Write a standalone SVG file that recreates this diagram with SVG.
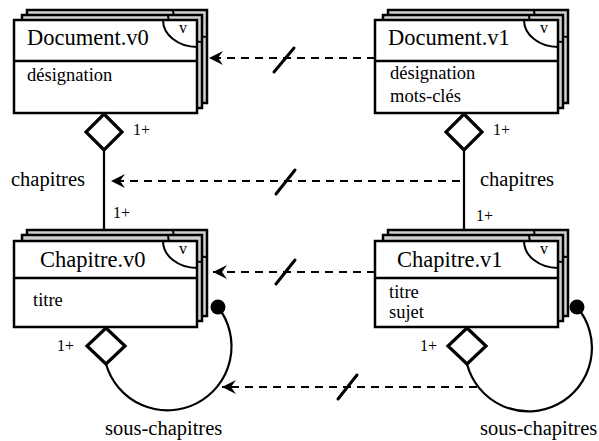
<svg xmlns="http://www.w3.org/2000/svg" width="599" height="441" viewBox="0 0 599 441">
<defs>
<style>
.back{fill:#d0d0d0;stroke:#000;stroke-width:2.5}
.front{fill:#fff;stroke:#000;stroke-width:2.5}
.sep{stroke:#000;stroke-width:2.5}
.arc{fill:none;stroke:#000;stroke-width:2}
text{font-family:'Liberation Serif','DejaVu Serif',serif;fill:#000}
.name{font-size:22.5px}
.attr{font-size:18.5px}
.lbl{font-size:20.5px}
.mult{font-size:16px}
.v{font-size:16px}
.dash{fill:none;stroke:#000;stroke-width:2.2;stroke-dasharray:8,6}
.solid{fill:none;stroke:#000;stroke-width:2.2}
.dia{fill:#fff;stroke:#000;stroke-width:3.2;stroke-linejoin:miter}
.slash{stroke:#000;stroke-width:3;stroke-linecap:round}
</style>
<marker id="ah" viewBox="-16 -8 17 16" refX="0" refY="0" markerWidth="17" markerHeight="16" markerUnits="userSpaceOnUse" orient="auto">
<path d="M0,0 L-14,-7 L-9,0 L-14,7 Z" fill="#000"/>
</marker>
</defs>

<g id="doc-v0">
<rect class="back" x="27" y="10" width="180" height="93"/>
<path class="arc" d="M173,10 A34,27 0 0 0 207,37"/>
<rect class="back" x="22" y="15" width="180" height="93"/>
<path class="arc" d="M168,15 A34,27 0 0 0 202,42"/>
<rect class="front" x="14" y="20" width="183" height="93"/>
<line class="sep" x1="14" y1="61" x2="197" y2="61"/>
<path class="arc" d="M163,20 A34,27 0 0 0 197,47"/>
<text class="v" x="183" y="33" text-anchor="middle">v</text>
<text class="name" x="27" y="45">Document.v0</text>
<text class="attr" x="27" y="81">désignation</text>
</g>

<g id="doc-v1">
<rect class="back" x="388" y="10" width="180" height="93"/>
<path class="arc" d="M534,10 A34,27 0 0 0 568,37"/>
<rect class="back" x="383" y="15" width="180" height="93"/>
<path class="arc" d="M529,15 A34,27 0 0 0 563,42"/>
<rect class="front" x="375" y="20" width="183" height="93"/>
<line class="sep" x1="375" y1="61" x2="558" y2="61"/>
<path class="arc" d="M524,20 A34,27 0 0 0 558,47"/>
<text class="v" x="544" y="33" text-anchor="middle">v</text>
<text class="name" x="388" y="45">Document.v1</text>
<text class="attr" x="390" y="79">désignation</text>
<text class="attr" x="390" y="102">mots-clés</text>
</g>

<g id="chap-v0">
<rect class="back" x="27" y="230" width="180" height="86"/>
<path class="arc" d="M173,230 A34,27 0 0 0 207,257"/>
<rect class="back" x="22" y="235" width="180" height="86"/>
<path class="arc" d="M168,235 A34,27 0 0 0 202,262"/>
<rect class="front" x="14" y="241" width="183" height="86"/>
<line class="sep" x1="14" y1="278" x2="197" y2="278"/>
<path class="arc" d="M163,241 A34,27 0 0 0 197,268"/>
<text class="v" x="183" y="254" text-anchor="middle">v</text>
<text class="name" x="40" y="267">Chapitre.v0</text>
<text class="attr" x="33" y="306">titre</text>
</g>

<g id="chap-v1">
<rect class="back" x="388" y="230" width="180" height="86"/>
<path class="arc" d="M534,230 A34,27 0 0 0 568,257"/>
<rect class="back" x="383" y="235" width="180" height="86"/>
<path class="arc" d="M529,235 A34,27 0 0 0 563,262"/>
<rect class="front" x="375" y="241" width="183" height="86"/>
<line class="sep" x1="375" y1="278" x2="558" y2="278"/>
<path class="arc" d="M524,241 A34,27 0 0 0 558,268"/>
<text class="v" x="544" y="254" text-anchor="middle">v</text>
<text class="name" x="397" y="267">Chapitre.v1</text>
<text class="attr" x="389" y="298">titre</text>
<text class="attr" x="389" y="318">sujet</text>
</g>

<g id="connectors">
<line class="solid" x1="104" y1="150" x2="104" y2="230"/>
<polygon class="dia" points="104,114 122,132 104,150 86,132"/>
<line class="solid" x1="464" y1="150" x2="464" y2="230"/>
<polygon class="dia" points="464,114 482,132 464,150 446,132"/>
<path class="solid" d="M106,364 A64,64 0 1 0 218,307"/>
<polygon class="dia" points="106,328 125,346 106,364 87,346"/>
<circle cx="218" cy="307" r="7.5" fill="#000"/>
<path class="solid" d="M467,364 A63.5,63.5 0 1 0 577,307"/>
<polygon class="dia" points="467,328 486,346 467,364 448,346"/>
<circle cx="577" cy="307" r="7.5" fill="#000"/>
<line class="dash" x1="375" y1="58" x2="209" y2="58" marker-end="url(#ah)"/>
<line class="slash" x1="274" y1="72" x2="294" y2="48"/>
<line class="dash" x1="460" y1="181" x2="111" y2="181" marker-end="url(#ah)"/>
<line class="slash" x1="276" y1="194" x2="295" y2="170"/>
<line class="dash" x1="375" y1="272" x2="213" y2="272" marker-end="url(#ah)"/>
<line class="slash" x1="276" y1="284" x2="295" y2="260"/>
<line class="dash" x1="477" y1="387" x2="222" y2="387" marker-end="url(#ah)"/>
<line class="slash" x1="338" y1="399" x2="357" y2="375"/>
</g>

<g id="labels">
<text class="mult" x="133" y="135">1+</text>
<text class="lbl" x="11" y="186">chapitres</text>
<text class="mult" x="113" y="218">1+</text>
<text class="mult" x="493" y="135">1+</text>
<text class="lbl" x="480" y="186">chapitres</text>
<text class="mult" x="476" y="221">1+</text>
<text class="mult" x="57" y="351">1+</text>
<text class="mult" x="420" y="351">1+</text>
<text class="lbl" x="105" y="435">sous-chapitres</text>
<text class="lbl" x="480" y="435">sous-chapitres</text>
</g>
</svg>
